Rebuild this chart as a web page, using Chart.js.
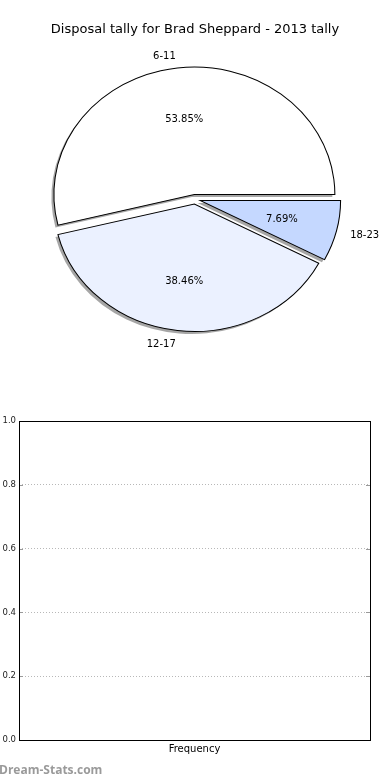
<!DOCTYPE html>
<html>
<head>
<meta charset="utf-8">
<script src="https://cdn.jsdelivr.net/npm/chart.js@4.4.1/dist/chart.umd.min.js"></script>
<style>
  html, body { margin: 0; padding: 0; background: #fff; }
  #page { position: relative; width: 390px; height: 780px; overflow: hidden; }
  #pieChart { position: absolute; left: 0; top: 0; }
  #barChart { position: absolute; left: 0; top: 400px; }
  #watermark { position: absolute; left: -1px; top: 761px; font: bold 12px "Open Sans", sans-serif; color: #9a9a9a; }
</style>
</head>
<body>
<div id="page">
  <canvas id="pieChart" width="390" height="400"></canvas>
  <canvas id="barChart" width="390" height="380"></canvas>
  <div id="watermark">Dream-Stats.com</div>
</div>
<script>
const TITLE = "Disposal tally for Brad Sheppard - 2013 tally";
const PIE_LABELS = ["6-11", "12-17", "18-23"];
const PIE_VALUES = [7, 5, 1];
const PIE_COLORS = ["#ffffff", "#ebf1ff", "#c5d8ff"];

const FREQ_LABELS = [];
const FREQ_VALUES = [];
const Y_TICKS = [0, 0.2, 0.4, 0.6, 0.8, 1.0];

Chart.defaults.font.family = "'DejaVu Sans', sans-serif";

// the reference pie is squashed into an ellipse, exploded and shadowed
const RADIUS = 134;
const SX = 140.5 / RADIUS, SY = 127.5 / RADIUS;
const EXPLODE = 5;
const SHADOW = { dx: -2.5, dy: 2.5, color: "rgba(77,77,77,0.5)" };

function squash(ctx, el) {
    ctx.translate(el.x, el.y);
    ctx.scale(SX, SY);
    ctx.translate(-el.x, -el.y);
}
function mid(el) { return (el.startAngle + el.endAngle) / 2; }

const piePlugin = {
    id: "mplPie",
    beforeDatasetDraw(chart, args) {
        const ctx = chart.ctx;
        const arcs = args.meta.data;
        // shadows go under every wedge
        arcs.forEach(el => {
            const a = mid(el);
            ctx.save();
            ctx.translate(SHADOW.dx, SHADOW.dy);
            squash(ctx, el);
            ctx.translate(Math.cos(a) * EXPLODE, Math.sin(a) * EXPLODE);
            ctx.beginPath();
            ctx.moveTo(el.x, el.y);
            ctx.arc(el.x, el.y, el.outerRadius, el.startAngle, el.endAngle);
            ctx.closePath();
            ctx.fillStyle = SHADOW.color;
            ctx.fill();
            ctx.restore();
        });
        arcs.forEach(el => {
            const a = mid(el);
            ctx.save();
            squash(ctx, el);
            ctx.translate(Math.cos(a) * EXPLODE, Math.sin(a) * EXPLODE);
            el.draw(ctx);
            ctx.restore();
        });
        return false;
    },
    afterDatasetsDraw(chart) {
        const ctx = chart.ctx;
        const meta = chart.getDatasetMeta(0);
        const data = chart.data.datasets[0].data;
        const total = data.reduce((s, v) => s + v, 0);
        ctx.save();
        ctx.font = "10px 'DejaVu Sans', sans-serif";
        ctx.fillStyle = "#000";
        ctx.textBaseline = "middle";
        meta.data.forEach((el, i) => {
            const a = mid(el);
            const at = k => {
                const d = EXPLODE + k * el.outerRadius;
                return [el.x + Math.cos(a) * d * SX, el.y + Math.sin(a) * d * SY];
            };
            let [x, y] = at(1.1);
            ctx.textAlign = Math.cos(a) > 0 ? "left" : "right";
            ctx.fillText(chart.data.labels[i], x, y + 1);
            [x, y] = at(0.6);
            ctx.textAlign = "center";
            ctx.fillText((data[i] / total * 100).toFixed(2) + "%", x, y + 1);
        });
        ctx.restore();
    }
};

// chart.js goes clockwise from the rotation, matplotlib went counter-clockwise from 3 o'clock
new Chart(document.getElementById("pieChart"), {
    type: "pie",
    data: {
        labels: PIE_LABELS.slice().reverse(),
        datasets: [{
            data: PIE_VALUES.slice().reverse(),
            backgroundColor: PIE_COLORS.slice().reverse(),
            borderColor: "#000",
            borderWidth: 1,
            borderAlign: "center",
            borderJoinStyle: "miter"
        }]
    },
    options: {
        responsive: false,
        animation: false,
        rotation: 90,
        radius: RADIUS,
        layout: { padding: { bottom: 39 } },
        plugins: {
            legend: { display: false },
            tooltip: { enabled: false },
            title: {
                display: true,
                text: TITLE,
                color: "#000",
                font: { size: 13, weight: "normal" },
                padding: { top: 22, bottom: 0 }
            }
        }
    },
    plugins: [piePlugin]
});

const boxPlugin = {
    id: "axesBox",
    afterDraw(chart) {
        const { ctx, chartArea: a } = chart;
        const y = chart.scales.y;
        ctx.save();
        ctx.lineWidth = 1;
        ctx.strokeStyle = "#999";
        Y_TICKS.forEach(v => {
            const py = Math.round(y.getPixelForValue(v)) + 0.5;
            ctx.beginPath();
            ctx.moveTo(a.left, py); ctx.lineTo(a.left + 4, py);
            ctx.moveTo(a.right - 4, py); ctx.lineTo(a.right, py);
            ctx.stroke();
        });
        ctx.strokeStyle = "#000";
        ctx.strokeRect(a.left + 0.5, a.top + 0.5, a.right - a.left, a.bottom - a.top);
        ctx.restore();
    }
};

new Chart(document.getElementById("barChart"), {
    type: "bar",
    data: {
        labels: FREQ_LABELS,
        datasets: [{ data: FREQ_VALUES, backgroundColor: "#c5d8ff" }]
    },
    options: {
        responsive: false,
        animation: false,
        layout: { padding: { top: 21, right: 20, left: 0, bottom: 0 } },
        plugins: { legend: { display: false }, tooltip: { enabled: false } },
        scales: {
            x: {
                type: "category",
                grid: { display: false },
                border: { display: false },
                ticks: { display: false },
                title: {
                    display: true,
                    text: "Frequency",
                    color: "#000",
                    font: { size: 10 },
                    padding: { top: 3, bottom: 25 }
                },
                afterFit: s => { s.height = 40; }
            },
            y: {
                min: 0,
                max: 1,
                afterBuildTicks: s => { s.ticks = Y_TICKS.map(v => ({ value: v })); },
                grid: { color: "#b8b8b8", lineWidth: 1, drawTicks: false },
                border: { display: false, dash: [1, 2] },
                ticks: {
                    padding: 3,
                    color: "#222",
                    font: { size: 8.5 },
                    callback: v => v.toFixed(1)
                },
                afterFit: s => { s.width = 19; }
            }
        }
    },
    plugins: [boxPlugin]
});
</script>
</body>
</html>
